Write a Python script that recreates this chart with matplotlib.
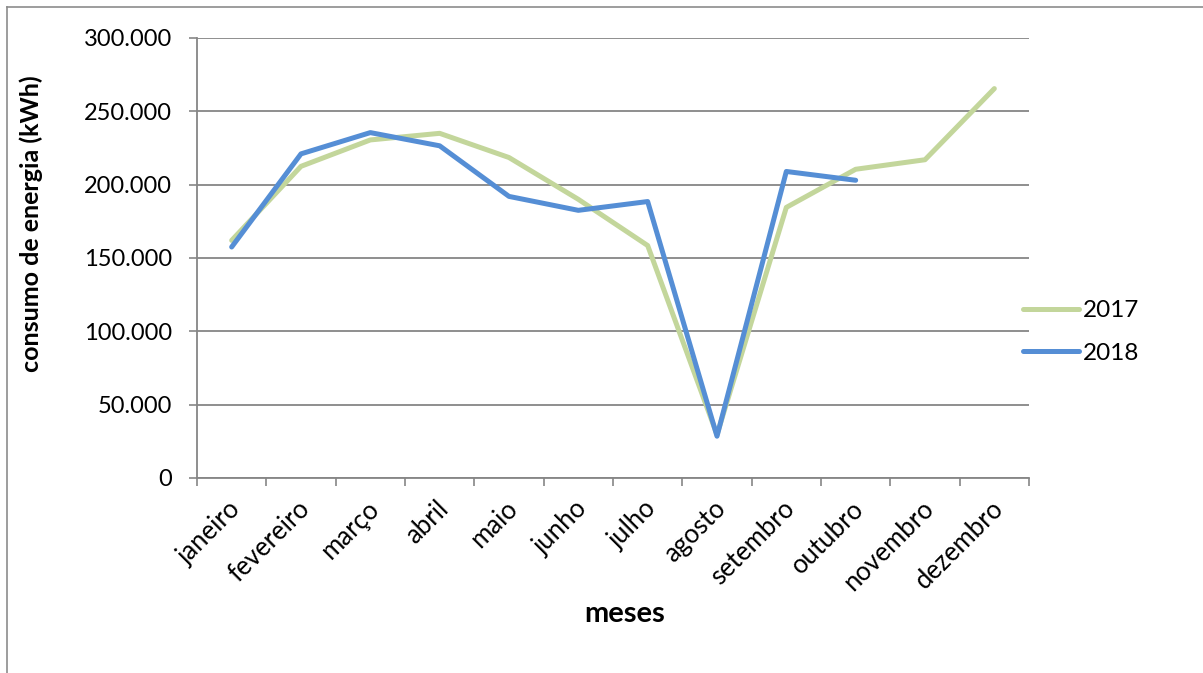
import matplotlib
matplotlib.use("Agg")
import matplotlib.pyplot as plt
from matplotlib.lines import Line2D
import matplotlib.transforms as mtrans
import numpy as np

months = ["janeiro", "fevereiro", "março", "abril", "maio", "junho", "julho",
          "agosto", "setembro", "outubro", "novembro", "dezembro"]
v2017 = [162000, 212500, 230500, 235000, 218500, 190000, 158500, 29500,
         184500, 210500, 217000, 265500]
v2018 = [157500, 221000, 235500, 226500, 192000, 182500, 188500, 28500,
         209000, 203000]
yticks = [0, 50000, 100000, 150000, 200000, 250000, 300000]
ytick_labels = ["0", "50.000", "100.000", "150.000", "200.000", "250.000", "300.000"]

plt.rcParams['font.family'] = ['Lato', 'DejaVu Sans']
W, H = 1203, 673
fig = plt.figure(figsize=(W / 100, H / 100), dpi=100)
ax = fig.add_axes([197 / W, 1 - 478 / H, (1029 - 197) / W, (478 - 38) / H])

grid_c = "#868686"
x = np.arange(len(months))
ax.plot(x, v2017, color="#C3D69B", lw=3.6, solid_capstyle="round",
        solid_joinstyle="round", label="2017", zorder=3)
ax.plot(x[:len(v2018)], v2018, color="#558ED5", lw=3.6, solid_capstyle="round",
        solid_joinstyle="round", label="2018", zorder=4)

ax.set_xlim(-0.5, len(months) - 0.5)
ax.set_ylim(0, 300000)
ax.set_yticks(yticks)
ax.set_yticklabels(ytick_labels, fontsize=17)
ax.yaxis.grid(True, color=grid_c, lw=1.3)
ax.set_axisbelow(True)

ax.set_xticks(np.arange(-0.5, len(months) + 0.5, 1.0))
ax.set_xticklabels([])
ax.set_xticks(x, minor=True)
ax.set_xticklabels(months, minor=True, rotation=45, ha="right",
                   rotation_mode="anchor", fontsize=18.5)
ax.tick_params(axis="x", which="minor", length=0, pad=13)
ax.tick_params(axis="x", which="major", length=6, color=grid_c, width=1.2)
ax.tick_params(axis="y", length=6, color=grid_c, width=1.2, pad=12)
off = mtrans.ScaledTranslation(-4 / 100, 0, fig.dpi_scale_trans)
for lbl in ax.get_xticklabels(minor=True):
    lbl.set_transform(lbl.get_transform() + off)

for s in ["top", "right"]:
    ax.spines[s].set_visible(False)
for s in ["left", "bottom"]:
    ax.spines[s].set_color(grid_c)
    ax.spines[s].set_linewidth(1.3)

ax.set_ylabel("consumo de energia (kWh)", fontsize=18, fontweight="bold")
ax.yaxis.set_label_coords(-(197 - 43) / (1029 - 197), (478 - 224) / (478 - 38))
ax.set_xlabel("meses", fontsize=21, fontweight="bold")
ax.xaxis.set_label_coords((625 - 197) / (1029 - 197), -(601 - 478) / (478 - 38))

leg = ax.legend(loc="center left", bbox_to_anchor=(1001 / W, 1 - 332 / H),
                bbox_transform=fig.transFigure, frameon=False, fontsize=17.5,
                handlelength=2.3, handletextpad=0.15, labelspacing=0.88)

# figure frame (top and left edges)
fig.add_artist(Line2D([7 / W, 1], [1 - 7 / H, 1 - 7 / H], color="#8c8c8c", lw=1.2,
                      transform=fig.transFigure))
fig.add_artist(Line2D([7 / W, 7 / W], [0, 1 - 7 / H], color="#8c8c8c", lw=1.2,
                      transform=fig.transFigure))

fig.savefig("out.png", dpi=100)
